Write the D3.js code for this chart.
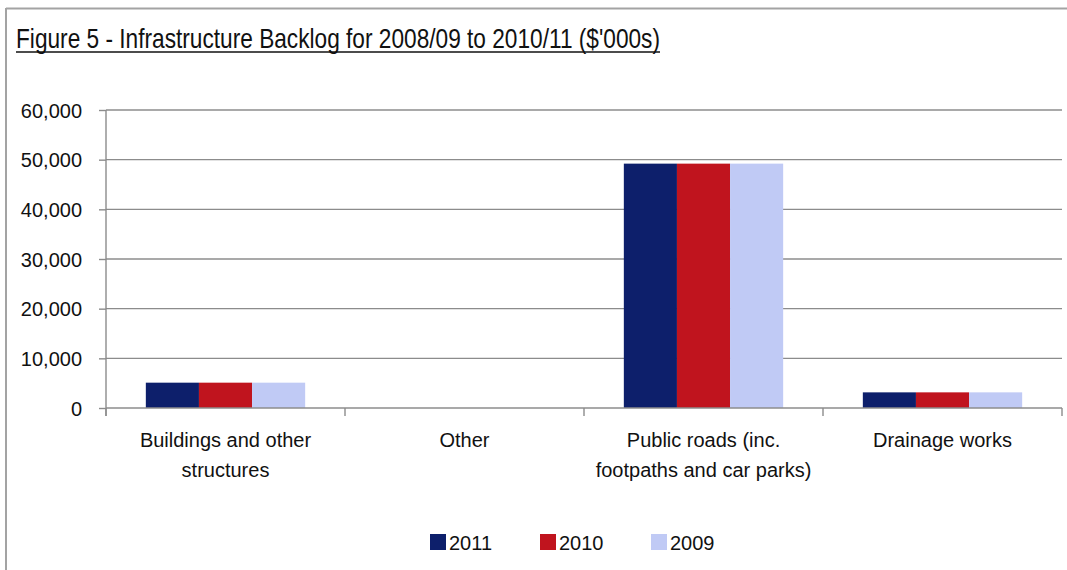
<!DOCTYPE html>
<html><head><meta charset="utf-8">
<script src="https://cdn.jsdelivr.net/npm/d3@7"></script>
<style>
html,body{margin:0;padding:0;background:#fff;}
svg{display:block;}
text{font-family:"Liberation Sans",Arial,sans-serif;fill:#111;}
</style></head>
<body>
<svg id="chart" width="1067" height="570"></svg>
<script>
const title = "Figure 5 - Infrastructure Backlog for 2008/09 to 2010/11 ($'000s)";
const categories = [["Buildings and other","structures"],["Other"],["Public roads (inc.","footpaths and car parks)"],["Drainage works"]];
const seriesNames = ["2011","2010","2009"];
const values2011 = [5100, 0, 49200, 3150];
const values2010 = [5100, 0, 49200, 3150];
const values2009 = [5100, 0, 49200, 3150];
const colors = ["#0D1F6B","#C0141E","#C0CAF5"];
const yTicks = [0,10000,20000,30000,40000,50000,60000];

const series = [values2011, values2010, values2009];
const svg = d3.select("#chart");

// frame
svg.append("line").attr("x1",6).attr("x2",1067).attr("y1",8.5).attr("y2",8.5).attr("stroke","#a3a3a3").attr("stroke-width",2);
svg.append("line").attr("x1",6).attr("x2",6).attr("y1",8).attr("y2",570).attr("stroke","#a3a3a3").attr("stroke-width",2);

// title
svg.append("text").attr("x",16).attr("y",48).text(title)
  .style("font-family",'"Liberation Sans Narrow","Arial Narrow","Liberation Sans",sans-serif')
  .style("font-size","28px").attr("textLength",644).attr("lengthAdjust","spacingAndGlyphs");
svg.append("line").attr("x1",16).attr("x2",660).attr("y1",52).attr("y2",52).attr("stroke","#111").attr("stroke-width",1.5);

const pLeft = 106, pRight = 1062, pTop = 110, pBottom = 408;
const x = d3.scaleBand().domain(d3.range(categories.length)).range([pLeft,pRight]).paddingInner(0).paddingOuter(0);
const inner = d3.scaleBand().domain(d3.range(seriesNames.length)).range([0,x.bandwidth()]).paddingInner(0).paddingOuter(0.75);
const y = d3.scaleLinear().domain([0,60000]).range([pBottom,pTop]);

// gridlines
svg.append("g").selectAll("line").data(yTicks.filter(d=>d>0)).join("line")
  .attr("x1",pLeft).attr("x2",pRight).attr("y1",d=>y(d)).attr("y2",d=>y(d))
  .attr("stroke","#8c8c8c").attr("stroke-width",1.4);

// y axis
const yAxis = d3.axisLeft(y).tickValues(yTicks).tickSize(7).tickPadding(17).tickFormat(d3.format(","));
const ya = svg.append("g").attr("transform",`translate(${pLeft},0)`).call(yAxis);
ya.select(".domain").remove();
ya.selectAll(".tick line").attr("stroke","#8c8c8c").attr("stroke-width",1.4);
ya.selectAll(".tick text").style("font-size","20px").style("font-family",'"Liberation Sans",Arial,sans-serif').attr("fill","#111").attr("dy","0.36em");
svg.append("line").attr("x1",pLeft).attr("x2",pLeft).attr("y1",pTop).attr("y2",pBottom+8).attr("stroke","#8c8c8c").attr("stroke-width",1.4);

// bars
categories.forEach((c,ci)=>{
  series.forEach((s,si)=>{
    svg.append("rect")
      .attr("x", x(ci)+inner(si))
      .attr("width", inner.bandwidth())
      .attr("y", y(s[ci]))
      .attr("height", pBottom - y(s[ci]))
      .attr("fill", colors[si]);
  });
});

// x axis baseline and ticks
svg.append("line").attr("x1",pLeft).attr("x2",pRight).attr("y1",pBottom).attr("y2",pBottom).attr("stroke","#8c8c8c").attr("stroke-width",1.4);
const bounds = d3.range(categories.length+1).map(i=> i<categories.length ? x(i) : pRight);
svg.append("g").selectAll("line").data(bounds).join("line")
  .attr("x1",d=>d).attr("x2",d=>d).attr("y1",pBottom).attr("y2",pBottom+8)
  .attr("stroke","#8c8c8c").attr("stroke-width",1.4);

// category labels
const lab = svg.append("g").selectAll("text").data(categories).join("text")
  .attr("text-anchor","middle").style("font-size","20px")
  .attr("x",(d,i)=>x(i)+x.bandwidth()/2).attr("y",447);
lab.each(function(d){
  const el = d3.select(this);
  d.forEach((line,li)=>{
    el.append("tspan").attr("x",el.attr("x")).attr("y",447+li*30).text(line);
  });
});

// legend
const legX = [430,540,651];
const lg = svg.append("g").selectAll("g").data(seriesNames).join("g")
  .attr("transform",(d,i)=>`translate(${legX[i]},534)`);
lg.append("rect").attr("width",16).attr("height",16).attr("fill",(d,i)=>colors[i]);
lg.append("text").attr("x",19).attr("y",16).style("font-size","20px").text(d=>d);
</script>
</body></html>
